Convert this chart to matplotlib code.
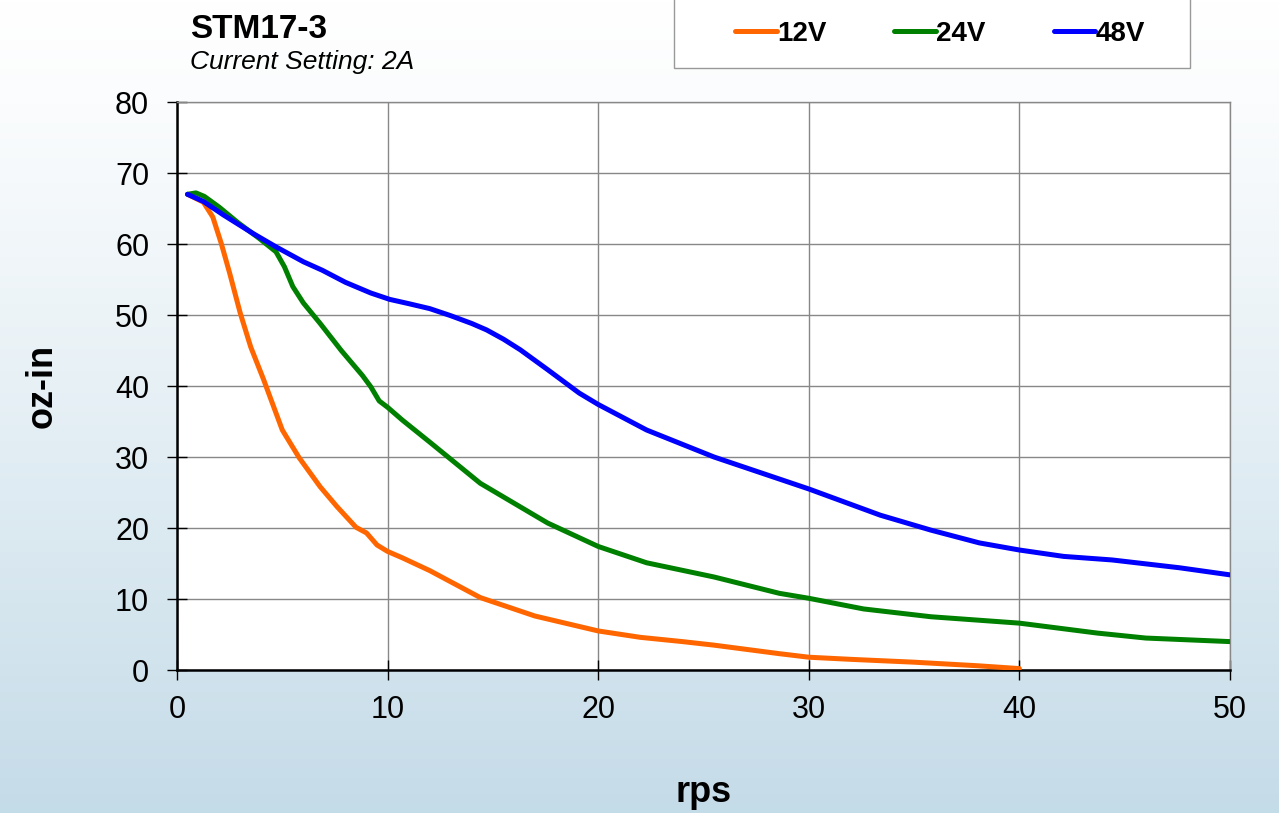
import numpy as np
import matplotlib.pyplot as plt
from matplotlib.patches import Rectangle

# speed (rps) / torque (oz-in)
rps_12 = [0.5, 1.25, 1.7, 2.1, 2.5, 3.0, 3.5, 4.1, 4.6, 5.0, 5.8, 6.8, 7.6, 8.5, 9.0, 9.5, 10.0, 10.7,
          12.0, 14.4, 17.0, 20.0, 22.0, 24.0, 25.5, 28.6, 30.0, 32.0, 35.0, 38.0, 40.0]
torque_12 = [67.0, 65.9, 63.8, 60.1, 55.9, 50.3, 45.5, 41.0, 37.0, 33.8, 29.9, 25.8, 23.0, 20.1, 19.3, 17.6, 16.7, 15.8,
             14.0, 10.2, 7.6, 5.5, 4.6, 4.0, 3.5, 2.3, 1.8, 1.5, 1.1, 0.6, 0.2]

rps_24 = [0.5, 0.9, 1.3, 2.0, 2.9, 3.9, 4.7, 5.1, 5.5, 6.0, 6.8, 7.8, 8.8, 9.2, 9.6, 10.0, 10.7, 12.0,
          14.4, 17.6, 20.0, 22.3, 25.5, 28.6, 30.0, 32.6, 35.8, 40.0, 43.7, 46.0, 50.0]
torque_24 = [67.0, 67.2, 66.7, 65.2, 63.0, 60.8, 58.9, 56.8, 54.0, 51.7, 48.8, 45.0, 41.5, 39.9, 37.9, 37.0, 35.2, 32.1,
             26.3, 20.7, 17.4, 15.1, 13.1, 10.8, 10.1, 8.6, 7.5, 6.6, 5.2, 4.5, 4.0]

rps_48 = [0.5, 1.25, 2.2, 3.6, 4.7, 6.0, 6.9, 8.0, 9.2, 10.1, 11.0, 12.0, 13.0, 14.0, 14.7, 15.5, 16.3, 17.6, 19.1, 20.0,
          22.3, 25.5, 28.6, 30.0, 33.4, 35.8, 38.1, 40.0, 42.1, 44.4, 47.6, 50.0]
torque_48 = [67.0, 66.0, 64.1, 61.5, 59.6, 57.5, 56.3, 54.6, 53.1, 52.2, 51.6, 50.9, 49.9, 48.8, 47.9, 46.6, 45.1, 42.3, 39.0, 37.4,
             33.8, 30.0, 26.9, 25.5, 21.8, 19.7, 17.9, 16.9, 16.0, 15.5, 14.4, 13.4]

series = [
    ("12V", rps_12, torque_12, "#FF6600"),
    ("24V", rps_24, torque_24, "#008000"),
    ("48V", rps_48, torque_48, "#0000FF"),
]

plt.rcParams['font.family'] = ['Liberation Sans', 'DejaVu Sans']

fig = plt.figure(figsize=(12.79, 8.13), dpi=100)

# gradient background
bg = fig.add_axes([0, 0, 1, 1], zorder=-10)
top = np.array([1.0, 1.0, 1.0])
bottom = np.array([0.77, 0.86, 0.91])
t = np.linspace(0, 1, 256)[:, None] ** 1.2
grad = top + (bottom - top) * t
bg.imshow(grad[:, None, :].repeat(2, axis=1), aspect='auto', extent=[0, 1, 0, 1])
bg.axis('off')

ax = fig.add_axes([177 / 1279, 1 - 670 / 813, (1230 - 177) / 1279, (670 - 102) / 813])
ax.set_facecolor('white')

for name, x, y, c in series:
    ax.plot(x, y, color=c, lw=3.6, label=name, solid_capstyle='round',
            solid_joinstyle='round', zorder=3)

ax.set_xlim(0, 50)
ax.set_ylim(0, 80)
ax.set_xticks(range(0, 51, 10))
ax.set_yticks(range(0, 81, 10))
ax.grid(True, color='#888888', lw=1.0)
ax.set_axisbelow(True)

for s in ['top', 'right']:
    ax.spines[s].set_color('#888888')
    ax.spines[s].set_linewidth(1.0)
for s in ['left', 'bottom']:
    ax.spines[s].set_color('black')
    ax.spines[s].set_linewidth(1.8)

ax.tick_params(direction='inout', length=14, width=1, labelsize=22)
ax.tick_params(axis='x', pad=11)
ax.tick_params(axis='y', pad=13)

ax.set_xlabel('rps', fontsize=26, fontweight='bold', labelpad=36)
ax.set_ylabel('oz-in', fontsize=26, fontweight='bold', labelpad=40)

fig.text(190 / 1279, 1 - 30 / 813, 'STM17-3', fontsize=24, fontweight='bold', va='center', ha='left')
fig.text(190 / 1279, 1 - 62 / 813, 'Current Setting: 2A', fontsize=19, fontstyle='italic', va='center', ha='left')

# legend box (top edge runs off the figure)
fig.patches.append(Rectangle((674 / 1279, 1 - 68 / 813), 516 / 1279, 0.2,
                             transform=fig.transFigure, facecolor='white',
                             edgecolor='#999999', lw=1.0, zorder=-5))
leg = ax.legend(loc='center', bbox_to_anchor=(940 / 1279, 1 - 34 / 813),
                bbox_transform=fig.transFigure, ncol=3, frameon=False,
                handlelength=1.5, handletextpad=0.0, columnspacing=2.45,
                borderpad=0.0, borderaxespad=0.0, prop={'weight': 'bold', 'size': 20})

fig.savefig('out.png', dpi=100)
